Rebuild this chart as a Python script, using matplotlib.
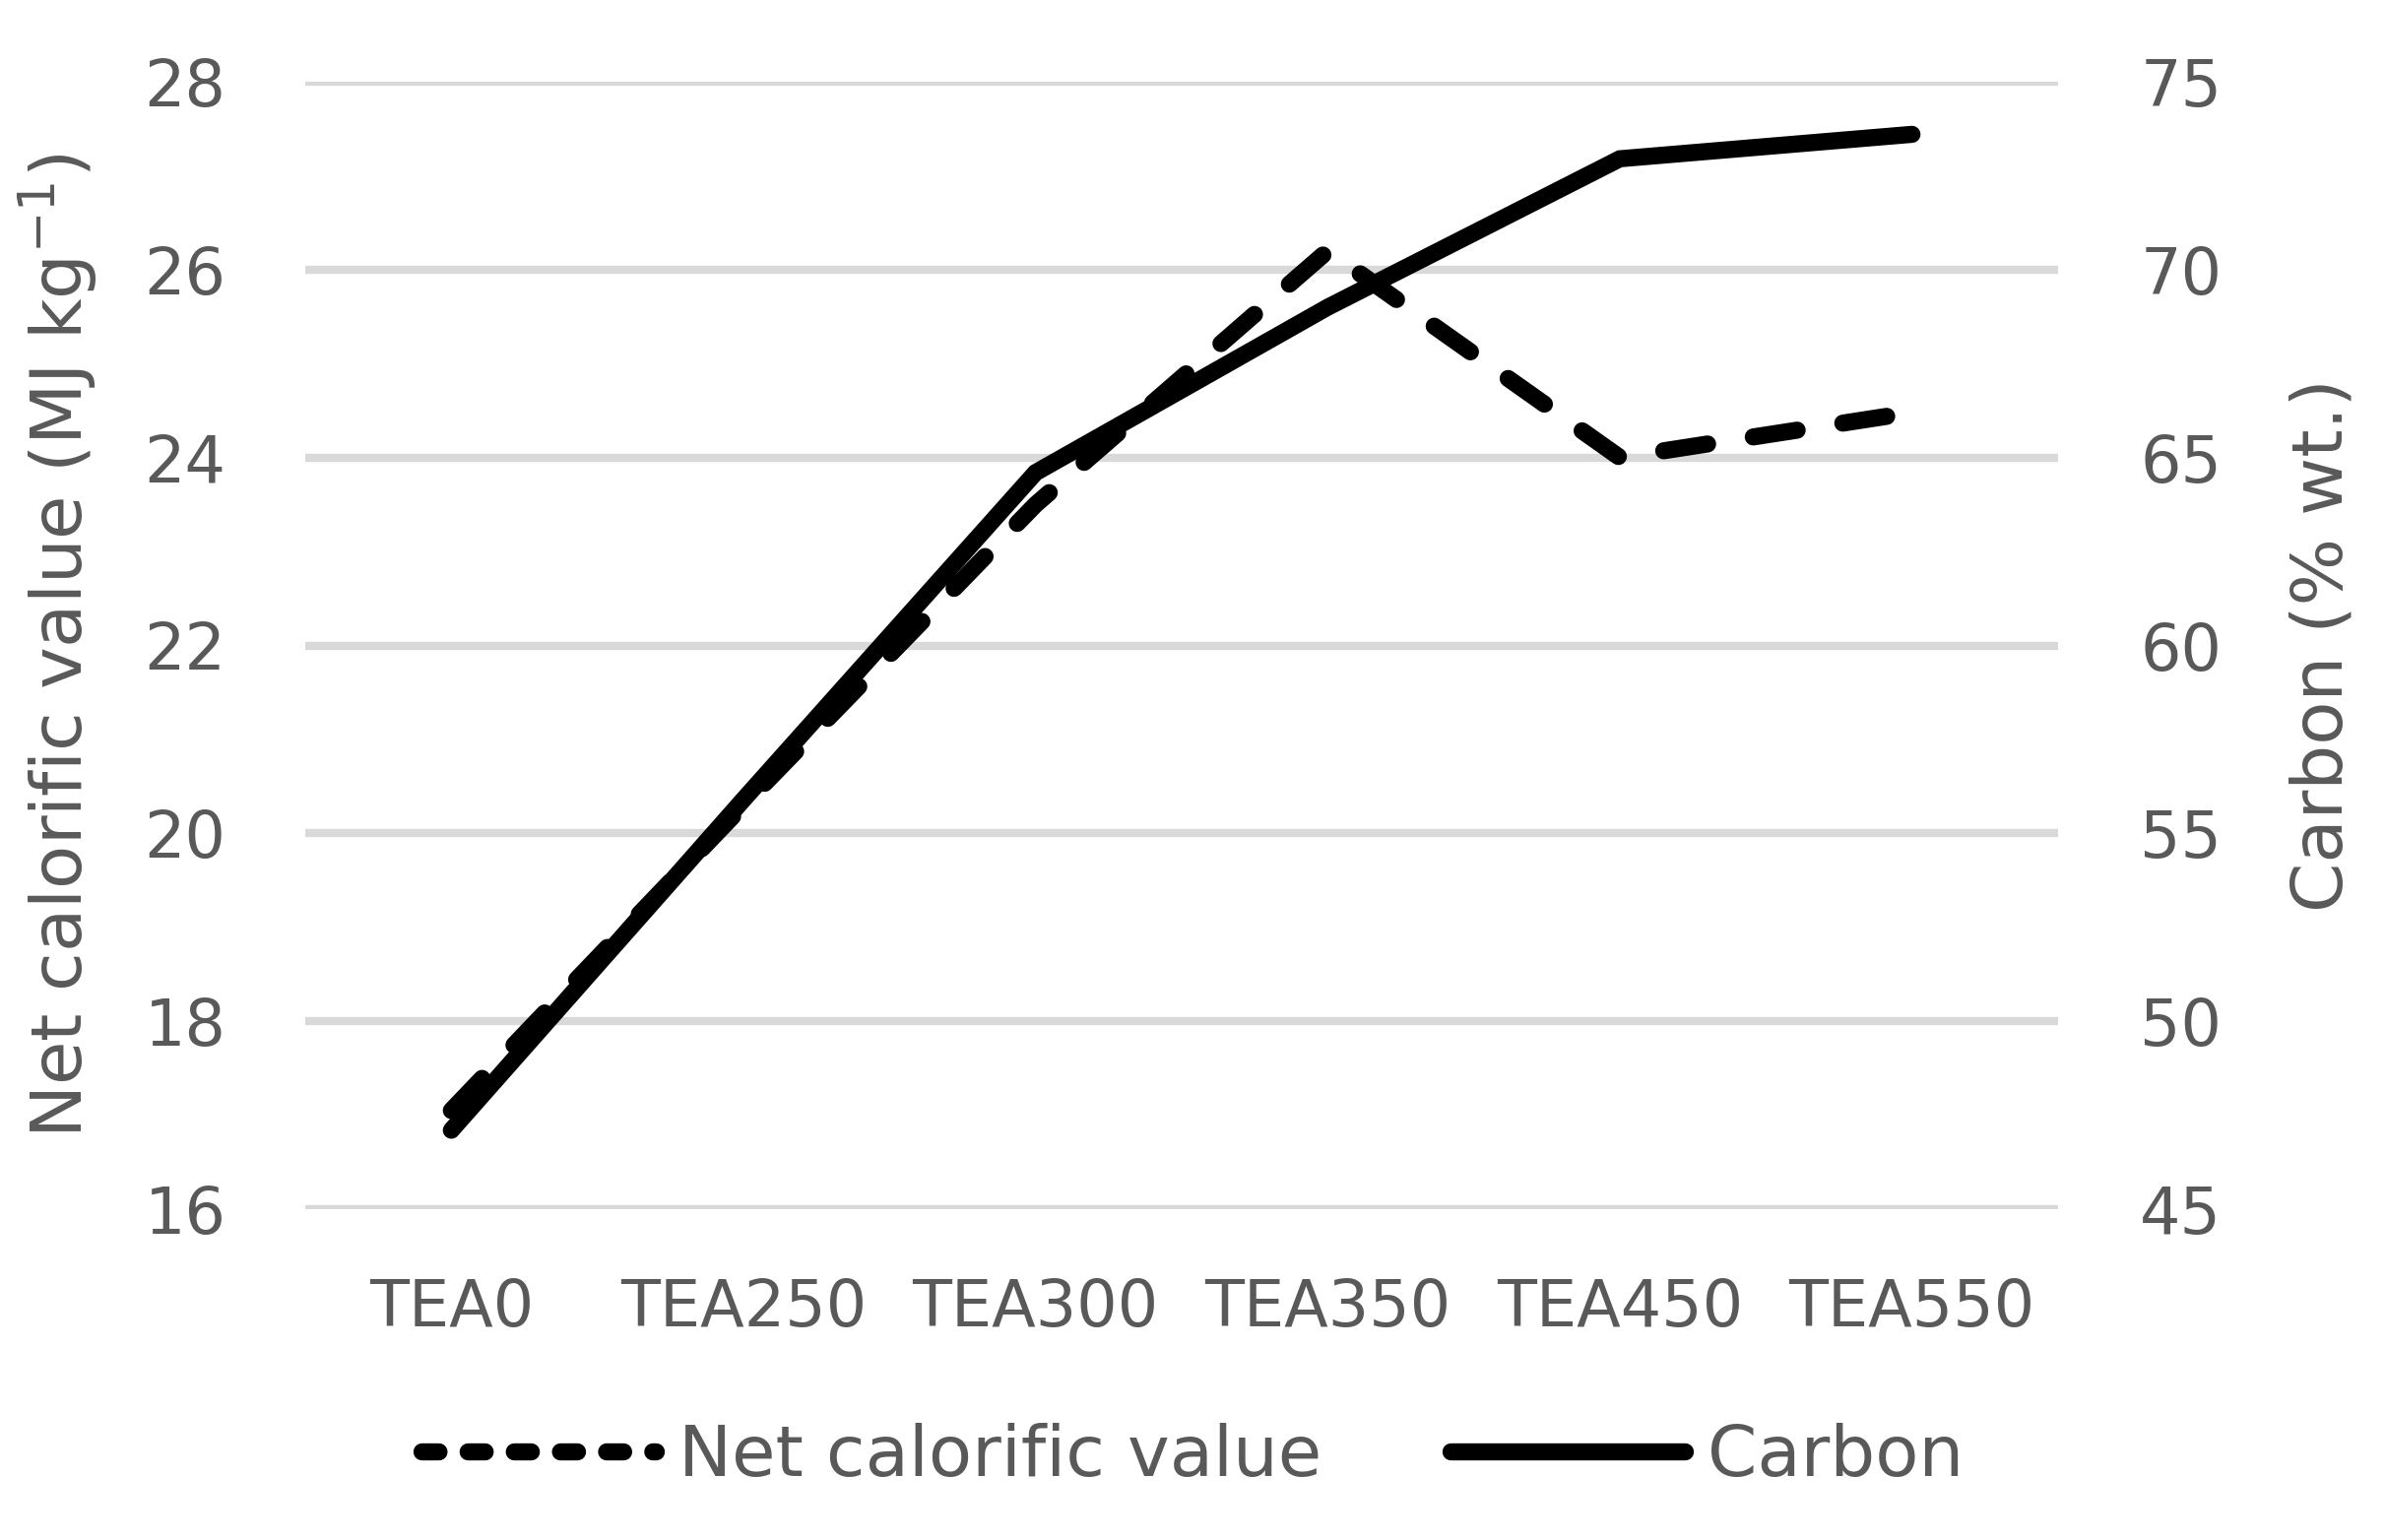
import matplotlib
matplotlib.use("Agg")
import matplotlib.pyplot as plt
from matplotlib.lines import Line2D

categories = ["TEA0", "TEA250", "TEA300", "TEA350", "TEA450", "TEA550"]
ncv = [17.05, 20.3, 23.5, 26.2, 24.0, 24.48]
carbon = [47.1, 55.9, 64.6, 69.0, 72.95, 73.6]
left_ticks = [16, 18, 20, 22, 24, 26, 28]
right_ticks = [45, 50, 55, 60, 65, 70, 75]

TXT = "#595959"
GRID = "#d9d9d9"
FS_TICK = 47
FS_LAB = 52

plt.rcParams['font.family'] = ['DejaVu Sans']

fig = plt.figure(figsize=(24.22, 15.64), dpi=100)
ax = fig.add_axes([310/2422, 1-1228/1564, 1780/2422, 1145/1564])
ax2 = ax.twinx()

x = list(range(len(categories)))
lw = 12.5
ax.plot(x, ncv, color="black", lw=lw, linestyle=(0, (2.6, 2.7)),
        dash_capstyle="round", solid_joinstyle="round", zorder=3)
ax2.plot(x, carbon, color="black", lw=lw, solid_capstyle="round",
         solid_joinstyle="miter", zorder=3)

ax.set_xlim(-0.5, len(categories) - 0.5)
ax.set_ylim(16, 28)
ax2.set_ylim(45, 75)
ax.set_yticks(left_ticks)
ax2.set_yticks(right_ticks)
ax.set_xticks(x)
ax.set_xticklabels(categories)

ax.grid(axis="y", color=GRID, lw=6, zorder=0)
ax.set_axisbelow(True)
for a in (ax, ax2):
    for s in a.spines.values():
        s.set_visible(False)
    a.tick_params(length=0, labelsize=FS_TICK, colors=TXT)

ax.tick_params(axis="y", pad=58)
ax.tick_params(axis="x", pad=50)
ax2.tick_params(axis="y", pad=60)

ax.set_ylabel("Net calorific value (MJ kg$^{-1}$)", fontsize=FS_LAB, color=TXT)
ax.yaxis.set_label_coords(-0.117, 0.5)
ax2.set_ylabel("Carbon (% wt.)", fontsize=FS_LAB, color=TXT, rotation=90)
ax2.yaxis.set_label_coords(1.132, 0.5)

handles = [
    Line2D([], [], color="black", lw=lw, linestyle=(0, (1.0, 1.7)), dash_capstyle="round"),
    Line2D([], [], color="black", lw=lw, solid_capstyle="round"),
]
leg = fig.legend(handles, ["Net calorific value", "Carbon"], loc="center",
                 bbox_to_anchor=(0.5, 1-1480/1564), ncol=2, frameon=False,
                 fontsize=FS_LAB, handlelength=3.3, handletextpad=0.32,
                 columnspacing=1.8, labelcolor=TXT)

fig.savefig("out.png", dpi=100, facecolor="white")
